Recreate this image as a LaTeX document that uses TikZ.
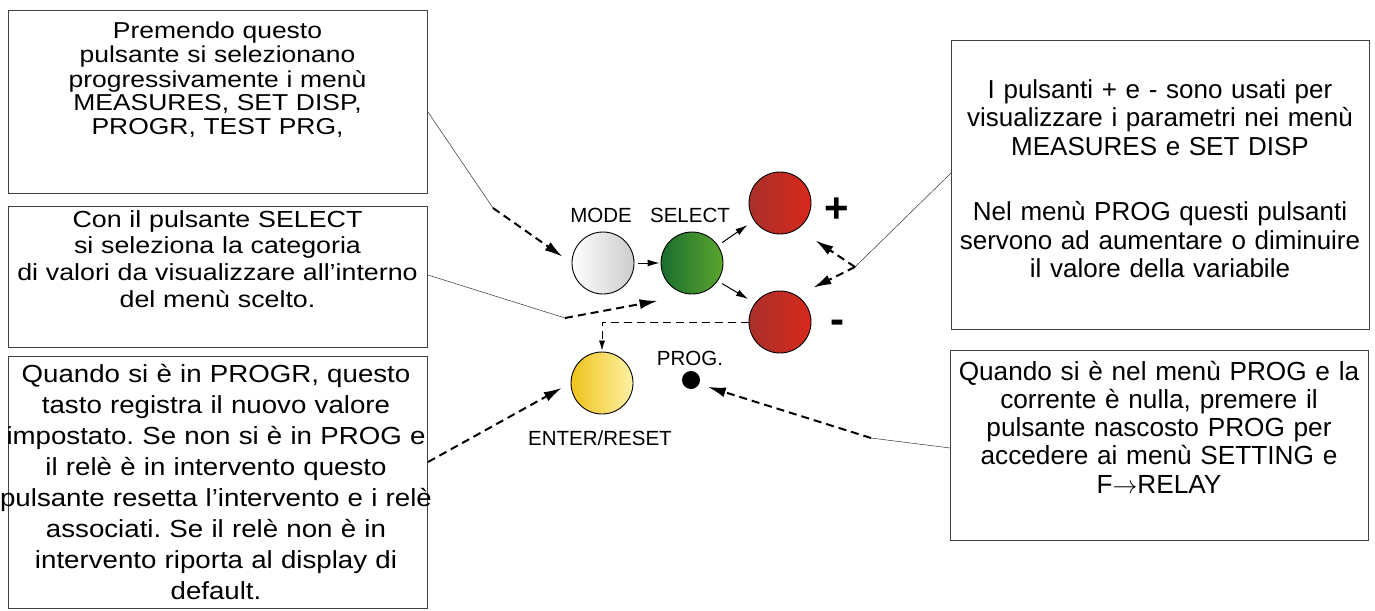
\documentclass[tikz,border=0pt]{standalone}
\usepackage{fontspec}
\setmainfont{Liberation Sans}
\newfontfamily\widefontA[FakeStretch=1.15]{Liberation Sans}
\newfontfamily\widefontB[FakeStretch=1.12]{Liberation Sans}
\usepackage{tikz}
\usetikzlibrary{arrows.meta,positioning}
\frenchspacing

\definecolor{btnred}{HTML}{D8281B}
\definecolor{btnreddark}{HTML}{A8302A}
\definecolor{btngreen}{HTML}{5BA52E}
\definecolor{btngreendark}{HTML}{1A6E2E}
\definecolor{btnyellow}{HTML}{F0C31A}
\definecolor{btnyellowlight}{HTML}{FDF1A6}
\definecolor{btngray}{HTML}{9A9A9A}

\begin{document}
\begin{tikzpicture}[>={Latex[length=18pt,width=10pt]}, x=1pt, y=-1pt,
		infobox/.style={rectangle, draw=black!75, line width=1pt, inner sep=0pt, anchor=north west},
		boxtext/.style={anchor=base, align=center, inner sep=0pt, text width=440pt},
		btn/.style={circle, draw=black, line width=0.9pt, minimum size=62pt, inner sep=0pt},
		lbl/.style={anchor=base, inner sep=0pt, font=\fontsize{20.5}{24}\selectfont},
		leader/.style={line width=0.5pt, black!80},
		pointer/.style={->, line width=2pt, dash pattern=on 8pt off 5pt},
		keyarrow/.style={-{Latex[length=12pt,width=7pt]}, line width=1pt}]
	\useasboundingbox (0,0) rectangle (1375,610);

	% text boxes
	\node [infobox, minimum width=419pt, minimum height=183pt] (b1) at (8,10) {};
	\node [infobox, minimum width=419pt, minimum height=141pt] (b2) at (8,206) {};
	\node [infobox, minimum width=419pt, minimum height=252pt] (b3) at (8,356) {};
	\node [infobox, minimum width=418pt, minimum height=289pt] (b4) at (951,40) {};
	\node [infobox, minimum width=418pt, minimum height=190pt] (b5) at (950,350) {};

	\node [boxtext, font={\widefontA\fontsize{23}{24}\selectfont}] (t1) at (217.5,39)
		{Premendo questo\\pulsante si selezionano\\progressivamente i menù\\MEASURES, SET DISP,\\PROGR, TEST PRG,};
	\node [boxtext, font={\widefontA\fontsize{23.3}{26.7}\selectfont}] (t2) at (217.5,227)
		{Con il pulsante SELECT\\si seleziona la categoria\\di valori da visualizzare all’interno\\del menù scelto.};
	\node [boxtext, font={\widefontB\fontsize{24.7}{31}\selectfont}] (t3) at (216,382)
		{Quando si è in PROGR, questo\\tasto registra il nuovo valore\\impostato. Se non si è in PROG e\\il relè è in intervento questo\\pulsante resetta l’intervento e i relè\\associati. Se il relè non è in\\intervento riporta al display di\\default.};
	\node [boxtext, font={\fontsize{26}{28.5}\selectfont}] (t4) at (1160,98)
		{I pulsanti + e - sono usati per\\visualizzare i parametri nei menù\\MEASURES e SET DISP\\[37pt]Nel menù PROG questi pulsanti\\servono ad aumentare o diminuire\\il valore della variabile};
	\node [boxtext, font={\fontsize{26.2}{28.3}\selectfont}] (t5) at (1159,380)
		{Quando si è nel menù PROG e la\\corrente è nulla, premere il\\pulsante nascosto PROG per\\accedere ai menù SETTING e\\F$\rightarrow$RELAY};

	% keypad
	\node [btn, left color=white, middle color=btngray, right color=white!80!black] (mode) at (603,263) {};
	\node [btn, left color=btngreendark, right color=btngreen] (select) at (692,263) {};
	\node [btn, left color=btnreddark, right color=btnred] (plus) at (780,203) {};
	\node [btn, left color=btnreddark, right color=btnred] (minus) at (780,322) {};
	\node [btn, left color=btnyellow, right color=btnyellowlight] (enter) at (602,383) {};
	\node [circle, fill=black, minimum size=18pt, inner sep=0pt] (prog) at (691,380) {};

	\node [lbl] (modelbl) at (601,222) {MODE};
	\node [lbl] (selectlbl) at (690,222) {SELECT};
	\node [lbl] (proglbl) at (690,365) {PROG.};
	\node [lbl] (enterlbl) at (600,445) {ENTER/RESET};
	\node [anchor=base, inner sep=0pt, font=\bfseries\fontsize{42}{42}\selectfont] (pluslbl) at (837,222) {+};
	\node [anchor=base, inner sep=0pt, font=\bfseries\fontsize{42}{42}\selectfont] (minuslbl) at (837,333) {-};

	\draw [keyarrow, shorten <=4pt, shorten >=1pt] (mode.east) -- (select.west);
	\draw [keyarrow, shorten <=5pt, shorten >=8pt] (select.34) -- (plus.214);
	\draw [keyarrow, shorten <=5pt, shorten >=8pt] (select.-35) -- (minus.143);
	\draw [line width=0.8pt, dash pattern=on 8pt off 5pt, -{Latex[length=10pt,width=6pt]}, shorten >=1pt] (minus.west) -| (enter.north);

	% leaders from the boxes
	\coordinate (k1) at (493,208);
	\coordinate (k2) at (565,318);
	\coordinate (k4) at (855,267);
	\coordinate (k5) at (871,438);

	\draw [leader] ([yshift=-102pt]b1.north east) -- (k1);
	\draw [pointer, shorten >=11pt] (k1) -- (mode.west);
	\draw [leader] ([yshift=-69pt]b2.north east) -- (k2);
	\draw [pointer, shorten >=35pt] (k2) -- (select.south);
	\draw [pointer, shorten >=10pt] ([yshift=-106pt]b3.north east) -- (enter.west);
	\draw [leader] ([yshift=-133pt]b4.north west) -- (k4);
	\draw [pointer, shorten >=21pt] (k4) -- (plus.-55);
	\draw [pointer, shorten >=18pt] (k4) -- (minus.57);
	\draw [leader] ([yshift=-98pt]b5.north west) -- (k5);
	\draw [pointer, shorten >=9pt] (k5) -- (prog.-27);
\end{tikzpicture}
\end{document}
